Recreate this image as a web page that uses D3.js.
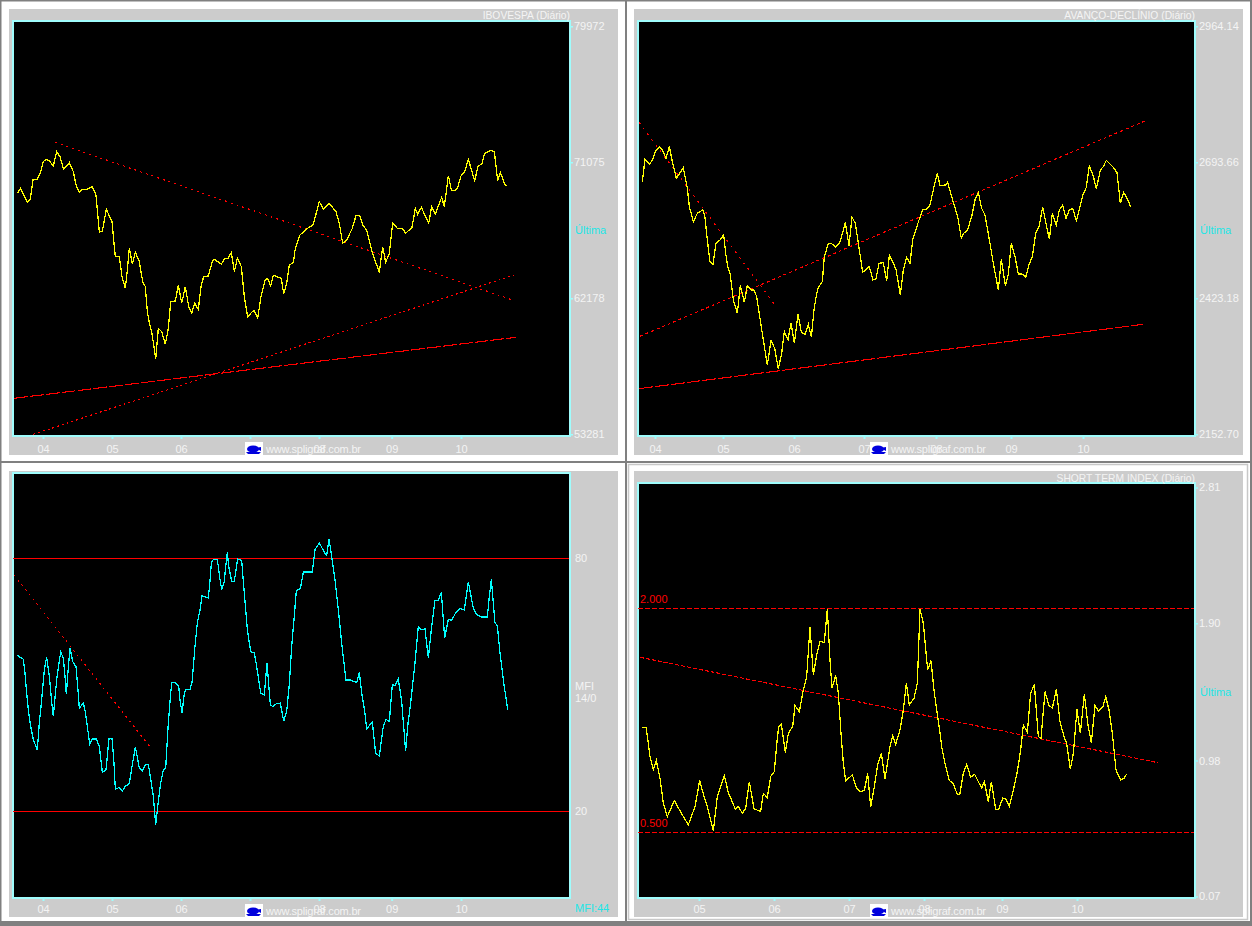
<!DOCTYPE html>
<html><head><meta charset="utf-8">
<script src="https://cdn.jsdelivr.net/npm/d3@7"></script>
<style>html,body{margin:0;padding:0;background:#fff;overflow:hidden}svg{display:block}text{font-family:"Liberation Sans",Arial,sans-serif;font-size:11px}</style>
</head><body>
<script>
// ---------- IBOVESPA ----------
const iboveSessions=[5.2,6.2,8.2,9.1,9.9,11.2,12.2,13,13.8,14.8,16,17,18,19.1,20.8,22,22.8,23.8,24.8,26.2,27.7,28.8,29.3,29.8,30.7,31.9,33.6,34.1,34.6,35.8,36.6,37.6,38.2,38.8,39.7,40.6,41.8,42.8,43.6,44.2,44.8,45.5,46.2,46.7,47.5,48.5,49.6,50.5,51.2,52.6,53.5,54.5,55.6,56.6,57.5,58.4,59.5,60.3,61.1,62.5,63.7,64.3,66.4,67.5,68.4,69.4,70.3,71.2,72.4,73.3,74.3,75.5,76.3,77.3,78.3,79.5,80.3,81.2,82,84.4,85.1,86,86.8,88,88.6,89.5,90,91.5,92.5,93.8,94.6,95.8,97,98.7,100.8,101.8,102.8,104,105.7,106.8,107.9,108.8,110,111.5,113.8,114.8,115.7,116.8,117.8,119.2,120.7,121.7,123.6,124.6,125.3,126.4,128.6,129.5,130.6,132.5,133.3,134.5,135.4,136.4,137.3,138.3,139.4,140.5,142.4,143.4,144.6,145.4,147.2,148.3,149.3,150.1,151.5,152];
const iboveValues=[69047,69374,68458,68655,69919,69963,70465,71119,71272,71184,70835,71773,71446,70617,71053,70465,69592,69113,69309,69309,69483,68938,67739,66496,66583,68000,67194,65994,64904,64904,63595,62832,64032,65449,64424,65187,64577,63268,62941,61306,60586,59997,59016,58187,60215,59997,59169,60215,61960,62004,63050,61851,62941,61633,61197,61851,61458,62941,63595,63639,64577,64729,64424,64795,64795,65166,63923,64795,64250,62287,60935,61262,61371,60870,62287,63334,63486,62985,63683,63486,62461,63159,64359,64511,65449,65994,66321,66605,66801,66932,67521,68502,68000,68393,67848,67085,65776,65994,66757,67586,67586,66976,66648,65296,63857,65558,64533,65122,67085,66757,66757,66430,66823,68066,67673,68131,67085,68175,67695,68785,68175,70203,69265,69222,69418,70181,70465,71272,69876,70792,71010,71664,71860,71773,69876,70421,69592,69549];
const iboveTrendSessions=[[16.5,154],[10,154.8],[4.2,154.8]];
const iboveTrendValues=[[72384,62047],[53281,63748],[55636,59627]];
const iboveTicks=[79972,71075,62178,53281];
// ---------- AVANCO-DECLINIO ----------
const advSessions=[3.7,4.5,5.8,6.8,7.6,8.8,9.6,10.8,11.8,12.8,13.9,16,17.2,17.8,19,20.2,21.8,22.4,23.2,24,24.9,25.8,27,28.1,28.7,29.3,30,31,32.2,33.1,34.3,35.2,36.3,37.2,38,39,40,41.2,42.3,43.4,44.5,45.5,46.3,47.4,48.3,49.3,50.4,51.4,52.5,53.5,54.4,55.2,56,56.5,57.7,58.3,59.5,60.6,61.7,62.8,63.6,64.6,65.7,66.6,67.6,68.8,69.8,71.8,72.9,73.8,74.7,76,77,77.8,78.9,79.8,81.1,82,83,84,84.8,86.2,87.8,89,90,91.2,92.2,93,94.8,95.3,96.5,98.3,99.4,100.1,101.2,102.5,103.5,104.5,105.5,106.5,108,109,110.5,111.4,112.6,113.5,114.4,115.5,116.5,117.6,118.7,119.7,120.7,121.7,122.7,123.8,125.8,126.7,127.9,128.8,129.8,130.8,131.8,132.8,133.9,134.9,135.9,136.9,137.8,139,139.9,141.1,142,142.9,145.1,146.1,147.1,148.1,149,150.2];
const advValues=[2655.2,2699.6,2689.7,2698.3,2714.9,2724.8,2719.5,2701.6,2724.8,2691.7,2661.8,2683.0,2642.0,2605.5,2575.7,2592.2,2598.9,2588.9,2539.2,2496.1,2490.8,2532.6,2539.2,2549.1,2512.7,2486.2,2472.9,2419.9,2393.4,2449.0,2415.2,2449.0,2439.8,2439.8,2426.5,2383.4,2340.3,2290.6,2339.0,2323.7,2282.7,2313.8,2356.9,2340.3,2374.8,2333.7,2391.4,2355.6,2351.6,2371.5,2345.6,2400.0,2433.1,2445.1,2456.3,2506.1,2532.6,2531.3,2524.6,2532.6,2549.1,2573.7,2527.9,2584.3,2572.4,2519.3,2474.9,2486.2,2459.7,2462.3,2492.8,2494.1,2458.3,2508.7,2494.1,2480.9,2429.8,2479.6,2504.7,2492.8,2539.2,2569.0,2600.2,2600.2,2608.8,2645.3,2671.8,2647.3,2648.6,2653.9,2625.4,2585.6,2542.5,2552.5,2557.8,2585.6,2618.8,2633.4,2602.2,2588.9,2532.6,2492.8,2439.8,2500.8,2448.4,2471.6,2532.6,2506.1,2471.6,2471.6,2465.0,2489.5,2506.1,2552.5,2565.7,2604.2,2540.5,2592.2,2569.0,2598.9,2608.2,2582.3,2598.9,2602.2,2577.7,2602.2,2628.7,2644.0,2686.4,2666.5,2640.6,2678.4,2685.1,2697.7,2683.0,2673.1,2612.1,2634.0,2623.4,2605.5];
const advTrendSessions=[[2.7,43.5],[3,155.2],[2.7,154]];
const advTrendValues=[[2773.2,2409.9],[2347.6,2777.9],[2243.5,2371.5]];
const advTicks=["2964.14","2693.66","2423.18","2152.70"];
// ---------- MFI ----------
const mfiSessions=[5.2,6,7,7.5,8,8.5,9.2,10,11.2,11.8,12.5,13.3,14,14.8,15.5,16,16.4,17,17.7,18.2,19,19.5,19.9,20.4,21,21.8,22.8,23.3,23.8,25,25.6,26.4,26.9,27.7,28.9,29.8,30.7,31.8,32.7,33.6,34.2,34.6,35.8,36.7,37.6,38.8,39.7,40.6,41.8,42.7,43.6,44.5,45,46,46.7,47.5,48.2,49,49.7,50.4,51,51.5,52.7,53.6,54,54.6,55.3,55.8,57,57.6,58.5,59.2,60,60.6,62.5,63,63.4,64,65.2,66,66.5,67.2,68.2,68.6,69.5,70.3,71.3,72.5,73.3,74.2,75.2,76.3,77,78.2,79.3,80.1,81.1,81.8,83,84.1,85.1,86,86.8,87.5,88.2,88.9,90.1,91,93.7,94.5,95.8,97.4,98,98.7,99.5,100.5,101.5,102.5,103.8,105,107,107.8,108.5,109.5,110,111.7,112.7,113.8,115,115.8,116.8,117.7,118.5,119.5,120.5,121.7,122.3,123.3,124.5,125.5,126.3,127.5,128.5,129.5,130.5,131.5,132.4,133.4,134.5,135.5,136.7,138,139.3,140.5,142,143,144.5,146.2,146.8,147.4,148.5,149.2,150,151,152.3];
const mfiValues=[57.0,56.5,56.0,52.7,48.0,44.0,40.1,36.9,34.5,40.9,46.4,53.5,56.5,51.9,45.9,42.5,46.0,51.1,55.1,57.7,56.3,51.9,47.7,53.1,58.7,55.5,54.2,49.6,44.4,45.6,43.6,38.9,35.9,37.1,37.1,35.3,29.2,29.8,37.2,37.2,31.4,25.2,25.6,24.7,25.9,26.5,31.0,35.2,30.2,29.6,31.0,31.1,28.6,23.5,16.8,22.3,26.6,29.8,30.1,39.7,46.0,50.4,50.4,49.6,46.4,43.2,48.0,48.8,48.9,50.4,59.1,64.6,67.7,71.0,70.5,74.5,78.8,79.7,79.7,74.9,72.5,74.1,81.4,78.0,74.5,74.5,79.8,79.4,71.7,63.0,57.8,57.5,54.3,48.0,47.5,55.1,45.2,44.8,45.5,45.6,41.3,43.6,50.0,59.1,65.4,72.3,72.7,76.7,76.7,82.0,83.6,81.2,80.6,84.5,80.4,74.9,67.7,59.8,51.1,51.1,50.5,52.9,48.0,43.2,39.5,41.1,33.6,33.1,40.1,41.7,41.3,50.0,49.7,51.3,46.0,34.2,40.1,46.4,55.1,63.8,63.0,63.2,56.3,63.8,70.0,70.0,71.9,61.0,65.5,65.2,67.0,68.0,67.7,74.3,68.1,66.6,66.0,66.0,70.9,74.9,64.6,64.0,57.5,51.1,44.0];
const mfiLevels=[80,20];
const mfiTrendSessions=[[4.2,45]];
const mfiTrendValues=[[76.0,35.2]];
// ---------- SHORT TERM INDEX ----------
const stiSessions=[3.7,4.8,5.5,6,7,7.9,9,10,11.2,13.3,15.5,17.5,19.5,20.9,22.2,23.2,25,26.2,28.3,29.5,31.6,32.5,33.7,34.7,35.8,37.2,39.2,40,41.2,42.2,43.3,44,44.6,45.4,46.6,47.5,48.8,49.5,50.8,52,53,54,55,56,57,58.3,59.2,60,60.6,61.7,62.5,63.3,64,64.7,66.7,68,69,70.3,71.3,72.2,73.3,74.3,75.4,76.5,78,78.8,79.7,81,82,82.9,83.8,85.2,86.2,87,88,89.3,90.3,91.2,92,93,93.5,94.5,95.8,96.8,98.2,98.9,100,101,102.2,103.4,105.5,106.3,107.5,108.4,109.7,110.6,111.8,112.8,113.8,115,116.2,117.2,118,119.2,120.2,121.3,122.5,123.3,124.5,125.6,126.7,127.9,129,130.2,131,132.1,133,134.1,135.1,136.3,137.4,138.4,139.5,140.5,141.9,142.7,143.7,144.7,145.8,147.2,148.2,149];
const stiValues=[1.203,1.203,1.096,1.007,0.917,0.980,0.862,0.694,0.605,0.712,0.623,0.549,0.672,0.846,0.739,0.672,0.511,0.739,0.879,0.766,0.654,0.672,0.627,0.661,0.839,0.658,0.638,0.761,0.732,0.873,0.906,1.085,1.208,1.223,1.033,1.163,1.208,1.348,1.308,1.453,1.542,1.877,1.554,1.687,1.777,1.772,1.995,1.654,1.464,1.549,1.431,1.163,0.962,0.844,0.884,0.795,0.770,0.779,0.895,0.667,0.806,0.951,1.029,0.855,1.074,1.147,1.089,1.185,1.319,1.498,1.353,1.397,1.498,1.995,1.899,1.587,1.649,1.453,1.319,1.163,1.074,0.962,0.846,0.833,0.754,0.750,0.895,0.955,0.868,0.888,0.795,0.839,0.705,0.839,0.656,0.650,0.728,0.721,0.672,0.783,0.906,1.051,1.219,1.170,1.431,1.491,1.141,1.129,1.442,1.353,1.330,1.458,1.241,1.141,1.096,0.922,1.029,1.324,1.163,1.424,1.219,1.100,1.348,1.312,1.341,1.408,1.319,1.163,0.917,0.850,0.862,0.891];
const stiLevels=[2.000,0.500];
const stiTrendSessions=[[3,158.3]];
const stiTrendValues=[[1.672,0.966]];
const stiTicks=["2.81","1.90","0.98","0.07"];
// ---------- x axis ----------
const monthLabels=["04","05","06","07","08","09","10"];
const leftMonthSessions=[12.9,33.6,54.3,75,95.7,117.5,138.3];
const advMonthSessions=[7.5,27.9,49.2,70.2,91.8,114.3,135.9];
const stiMonthLabels=["05","06","07","08","09","10"];
const stiMonthSessions=[20.7,43.2,65.7,88.2,111.6,134.1];

const W=1252,H=926,CY="#9ffcfc",RED="#ff0000",YEL="#ffff00",CYL="#00ffff",GR="#cccccc",TX="#f4f4f4";
const svg=d3.select("body").append("svg").attr("width",W).attr("height",H);
svg.append("rect").attr("width",W).attr("height",H).attr("fill","#fff");
// window frame and dividers
const frame=[[0,0,W,1.5],[0,0,1.5,H],[W-2,0,2,H],[0,H-5,W,5],[0,461,W,2],[625,0,2,H]];
svg.selectAll(null).data(frame).join("rect").attr("x",d=>d[0]).attr("y",d=>d[1]).attr("width",d=>d[2]).attr("height",d=>d[3]).attr("fill","#808080");
svg.append("rect").attr("x",628.5).attr("y",464.5).attr("width",619).attr("height",455).attr("fill","none").attr("stroke","#c8c8c8").attr("stroke-width",1.5);

const panels=[
{g:[9,9,618,455],pl:[14,22,569,435],sd:[4.2,170.7],vd:[53281,79972],vr:[434.3,26.3],title:"IBOVESPA (Diário)",ty:15,
 ticks:iboveTicks.map(v=>[v,String(v)]),s:iboveSessions,v:iboveValues,c:YEL,ts:iboveTrendSessions,tv:iboveTrendValues,dash:["2,4","2,3","14,2"],
 ml:monthLabels,ms:leftMonthSessions,ultima:230,logoY:442,textY:449,pad:6,yPad:1},
{g:[634,9,1243,455],pl:[639,22,1194,435],sd:[2.7,169.2],vd:[2152.70,2964.14],vr:[434.3,26.3],title:"AVANÇO-DECLÍNIO (Diário)",ty:15,
 ticks:advTicks.map(v=>[+v,v]),s:advSessions,v:advValues,c:YEL,ts:advTrendSessions,tv:advTrendValues,dash:["2,5","3,3","14,2"],
 ml:monthLabels,ms:advMonthSessions,ultima:230,logoY:442,textY:449,pad:6,yPad:1},
{g:[9,471,618,917],pl:[14,474,569,897],sd:[4.2,170.7],vd:[0,100],vr:[895.4,473.7],title:null,
 ticks:mfiLevels.map(v=>[v,String(v)]),s:mfiSessions,v:mfiValues,c:CYL,ts:mfiTrendSessions,tv:mfiTrendValues,dash:["2,4"],
 ml:monthLabels,ms:leftMonthSessions,ultima:null,logoY:904,textY:911,pad:4,yPad:4,yTick:0,levels:mfiLevels,levelDash:null},
{g:[634,471,1243,917],pl:[639,484,1194,897],sd:[2.7,169.2],vd:[0.07,2.81],vr:[896.4,487.4],title:"SHORT TERM INDEX (Diário)",ty:478,
 ticks:stiTicks.map(v=>[+v,v]),s:stiSessions,v:stiValues,c:YEL,ts:stiTrendSessions,tv:stiTrendValues,dash:["4,2"],
 ml:stiMonthLabels,ms:stiMonthSessions,ultima:692,logoY:904,textY:911,pad:4,yPad:1,levels:stiLevels,levelDash:"5,2",levelLabels:true}
];

panels.forEach(p=>{
  const [gx0,gy0,gx1,gy1]=p.g,[l,t,r,b]=p.pl;
  const g=svg.append("g");
  g.append("rect").attr("x",gx0).attr("y",gy0).attr("width",gx1-gx0).attr("height",gy1-gy0).attr("fill",GR);
  g.append("rect").attr("x",l).attr("y",t).attr("width",r-l).attr("height",b-t).attr("fill","#000");
  const x=d3.scaleLinear().domain(p.sd).range([l,r]);
  const y=d3.scaleLinear().domain(p.vd).range(p.vr);
  const crisp=s=>s.attr("shape-rendering","crispEdges");

  const fr=[[l-2,t-2,2,b-t+4],[l-2,t-2,r-l+4,2],[r,t-2,2,b-t+4],[l-2,b,r-l+4,2]];
  g.selectAll(null).data(fr).join("rect").attr("x",d=>d[0]).attr("y",d=>d[1]).attr("width",d=>d[2]).attr("height",d=>d[3]).attr("fill",CY);

  const xAxis=d3.axisBottom(x).tickValues(p.ms).tickFormat((d,i)=>p.ml[i]).tickSize(3).tickPadding(p.pad);
  const ax=g.append("g").attr("transform",`translate(0,${b+1})`).call(xAxis);
  ax.select(".domain").remove();
  ax.selectAll(".tick line").attr("stroke",CY).attr("stroke-width",2);
  ax.selectAll(".tick text").attr("fill",TX).style("font-family",'"Liberation Sans",Arial,sans-serif').style("font-size","11px");

  const yAxis=d3.axisRight(y).tickValues(p.ticks.map(d=>d[0])).tickFormat((d,i)=>p.ticks[i][1]).tickSize(p.yTick===0?0:2).tickPadding(p.yPad);
  const ay=g.append("g").attr("transform",`translate(${r+2},0)`).call(yAxis);
  ay.select(".domain").remove();
  ay.selectAll(".tick line").attr("stroke",CY).attr("stroke-width",1.5);
  ay.selectAll(".tick text").attr("fill",TX).style("font-family",'"Liberation Sans",Arial,sans-serif').style("font-size","11px");

  if(p.title) g.append("text").attr("x",r+1).attr("y",p.ty).attr("dy","0.35em").attr("text-anchor","end").attr("fill",TX).style("font-size","10.3px").text(p.title);
  if(p.ultima) g.append("text").attr("x",r+6).attr("y",p.ultima).attr("dy","0.35em").attr("fill","#22e6e6").text("Última");

  if(p.levels){
    crisp(g.selectAll(null).data(p.levels).join("line").attr("x1",l-1).attr("x2",r).attr("y1",d=>y(d)).attr("y2",d=>y(d))
      .attr("stroke",RED).attr("stroke-dasharray",p.levelDash));
    if(p.levelLabels) g.selectAll(null).data(p.levels).join("text").attr("x",l+1).attr("y",d=>y(d)-9).attr("dy","0.35em").attr("fill",RED).text(d=>d.toFixed(3));
  }

  const line=d3.line().x(d=>x(d[0])).y(d=>y(d[1]));
  p.ts.forEach((ss,i)=>{
    crisp(g.append("path").attr("d",line(d3.zip(ss,p.tv[i]))).attr("fill","none").attr("stroke",RED).attr("stroke-width",1.1).attr("stroke-dasharray",p.dash[i]));
  });
  crisp(g.append("path").attr("d",line(d3.zip(p.s,p.v))).attr("fill","none").attr("stroke",p.c).attr("stroke-width",1.25).attr("stroke-linejoin","miter"));

  const logoX=l+231;
  g.append("rect").attr("x",logoX).attr("y",p.logoY).attr("width",18).attr("height",p.logoY===442?13:14).attr("fill","#fff");
  const cx=logoX+8,cy=p.logoY+7;
  g.append("ellipse").attr("cx",cx).attr("cy",cy).attr("rx",6).attr("ry",3.6).attr("fill","#0000dd");
  g.append("path").attr("d",`M${cx-7},${cy+3}L${cx+8},${cy+3}L${cx+6},${cy+5}L${cx-5},${cy+5}Z`).attr("fill","#0000dd");
  g.append("path").attr("d",`M${cx+2},${cy-1}L${cx+8},${cy-2}L${cx+8},${cy+2}Z`).attr("fill","#0000dd");
  g.append("text").attr("x",logoX+21).attr("y",p.textY).attr("dy","0.35em").attr("fill",TX).attr("textLength",95).text("www.spligraf.com.br");
});
const mfiNotes=[["MFI",686,TX],["14/0",698,TX],["MFI:44",908,"#22e6e6"]];
svg.selectAll(null).data(mfiNotes).join("text").attr("x",575).attr("y",d=>d[1]).attr("dy","0.35em").attr("fill",d=>d[2]).text(d=>d[0]);
</script>
</body></html>
